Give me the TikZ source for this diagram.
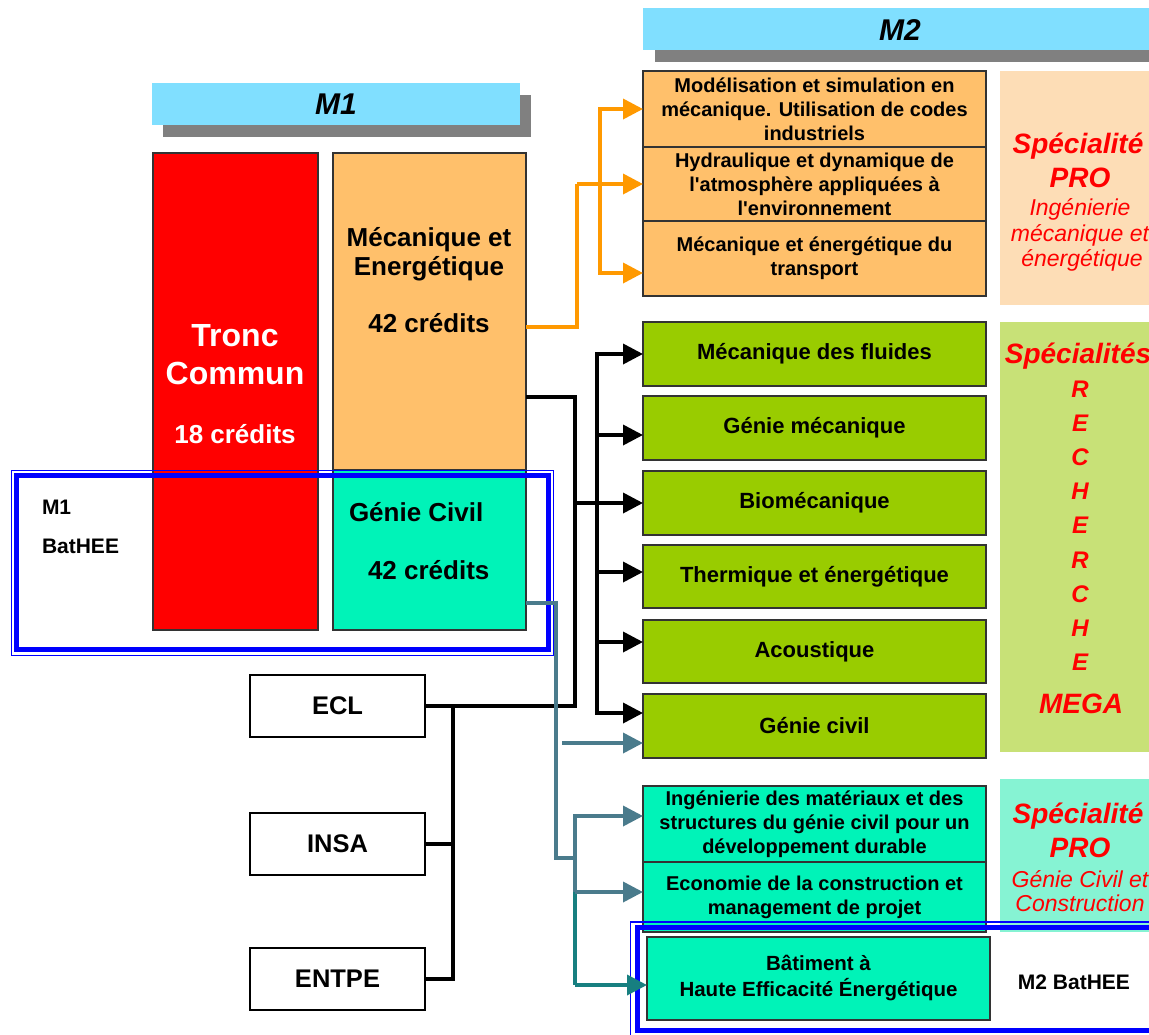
\documentclass[tikz,border=0pt]{standalone}
\usepackage{fontspec}
\setmainfont{Liberation Sans}[Ligatures=TeXOff]
\usetikzlibrary{arrows.meta,calc}
\newcommand\myfs[2]{\fontsize{#1}{#2}\selectfont}
\definecolor{hdr}{HTML}{80DFFF}
\definecolor{shd}{HTML}{808080}
\definecolor{redb}{HTML}{FF0000}
\definecolor{orab}{HTML}{FFC06B}
\definecolor{aqub}{HTML}{00F3B8}
\definecolor{grnb}{HTML}{99CC00}
\definecolor{oral}{HTML}{FF9900}
\definecolor{tealA}{HTML}{4A7B8C}
\definecolor{tealB}{HTML}{177F80}
\definecolor{bluer}{HTML}{0000FF}
\definecolor{spo}{HTML}{FDDDB6}
\definecolor{spg}{HTML}{C8E177}
\definecolor{spa}{HTML}{86F3D3}
\begin{document}
\begin{tikzpicture}[x=1pt,y=-1pt,
  bx/.style={draw=black!80,line width=1.2pt,anchor=north west,inner sep=0pt,outer sep=0pt,align=center},
  mbox/.style={bx,minimum width=343pt,font=\bfseries\myfs{20}{24}},
  gbox/.style={bx,fill=grnb,minimum width=343pt,font=\bfseries\myfs{22}{26}},
  sbox/.style={bx,draw=black,line width=1.8pt,fill=white,minimum width=175pt,minimum height=62pt,font=\bfseries\myfs{25.5}{30}},
  spbox/.style={anchor=north west,inner sep=0pt,outer sep=0pt,minimum width=170pt},
  tx/.style={anchor=base,inner sep=0pt,outer sep=0pt},
  rt/.style={tx,text=red,font=\bfseries\itshape\myfs{28}{32}},
  rs/.style={tx,text=red,font=\itshape\myfs{23}{26}},
  bl/.style={draw=black,line width=3.6pt},
  ol/.style={draw=oral,line width=3.6pt},
  tl/.style={draw=tealA,line width=3.6pt},
  tlb/.style={draw=tealB,line width=3.6pt},
  tip/.style={-{Triangle[length=20pt,width=20pt]}}
]
\useasboundingbox (0,0) rectangle (1149,1034);
\clip (0,0) rectangle (1149,1034);
\fill[white] (0,0) rectangle (1149,1034);

% headers
\fill[shd] (163,95) rectangle (531,137);
\node[bx,draw=none,fill=hdr,minimum width=368pt,minimum height=42pt,font=\bfseries\itshape\myfs{30}{36}] (h1) at (152,83) {M1};
\fill[shd] (655,20) rectangle (1170,62);
\node[bx,draw=none,fill=hdr,minimum width=520pt,minimum height=42pt] (h2) at (643,8) {};
\node[tx,font=\bfseries\itshape\myfs{30}{36}] (h2t) at (900,40) {M2};

% M1 boxes
\node[bx,fill=redb,minimum width=165pt,minimum height=477pt] (tc) at (153,153) {};
\node[bx,fill=orab,minimum width=193pt,minimum height=317pt] (meca) at (333,153) {};
\node[bx,fill=aqub,minimum width=193pt,minimum height=160pt] (gciv) at (333,470) {};
\node[tx,text=white,font=\bfseries\myfs{32}{38}] (tc1) at (235,346) {Tronc};
\node[tx,text=white,font=\bfseries\myfs{32}{38}] (tc2) at (235,384) {Commun};
\node[tx,text=white,font=\bfseries\myfs{26}{30}] (tc3) at (235,443) {18 crédits};
\node[tx,font=\bfseries\myfs{26}{30}] (me1) at (429,246) {Mécanique et};
\node[tx,font=\bfseries\myfs{26}{30}] (me2) at (429,275) {Energétique};
\node[tx,font=\bfseries\myfs{26}{30}] (me3) at (429,332) {42 crédits};
\node[tx,anchor=base west,font=\bfseries\myfs{26}{30}] (gc1) at (349,521) {Génie Civil};
\node[tx,anchor=base west,font=\bfseries\myfs{26}{30}] (gc2) at (368,579) {42 crédits};
\node[tx,anchor=base west,font=\bfseries\myfs{21}{26}] (mb1) at (42,514) {M1};
\node[tx,anchor=base west,font=\bfseries\myfs{21}{26}] (mb2) at (42,553) {BatHEE};

% schools
\node[sbox] (ECL) at (250,675) {ECL};
\node[sbox] (INSA) at (250,813) {INSA};
\node[sbox] (ENTPE) at (250,948) {ENTPE};

% specialty panels
\node[spbox,fill=spo,minimum height=234pt] (sp1) at (1000,71) {};
\node[spbox,fill=spg,minimum height=430pt] (sp2) at (1000,322) {};
\node[spbox,fill=spa,minimum height=153pt] (sp3) at (1000,779) {};
\node[rt] (s1a) at (1078,153) {Spécialité};
\node[rt] (s1b) at (1080,187) {PRO};
\node[rs] (s1c) at (1080,215) {Ingénierie};
\node[rs] (s1d) at (1080,241) {mécanique et};
\node[rs] (s1e) at (1082,266) {énergétique};
\node[rt] (s2a) at (1078,363) {Spécialités};
\foreach \L [count=\i] in {R,E,C,H,E,R,C,H,E}
  \node[tx,text=red,font=\bfseries\itshape\myfs{24}{28}] (rl\i) at (1080,{397.5+(\i-1)*34.1}) {\L};
\node[rt] (s2m) at (1081,713) {MEGA};
\node[rt] (s3a) at (1078,823) {Spécialité};
\node[rt] (s3b) at (1080,857) {PRO};
\node[rs] (s3c) at (1080,887) {Génie Civil et};
\node[rs] (s3d) at (1080,911) {Construction};

% M2 orange
\node[mbox,fill=orab,minimum height=76pt] (mod) at (643,71) {Modélisation et simulation en\\mécanique. Utilisation de codes\\industriels};
\node[mbox,fill=orab,minimum height=74pt] (hyd) at (643,147) {Hydraulique et dynamique de\\l'atmosphère appliquées à\\l'environnement};
\node[mbox,fill=orab,minimum height=75pt] (tra) at (643,221) {Mécanique et énergétique du\\transport};
% M2 green
\node[gbox,minimum height=64pt] (fl) at (643,322) {Mécanique des fluides};
\node[gbox,minimum height=64pt] (gm) at (643,396) {Génie mécanique};
\node[gbox,minimum height=64pt] (bio) at (643,471) {Biomécanique};
\node[gbox,minimum height=63pt] (th) at (643,545) {Thermique et énergétique};
\node[gbox,minimum height=63pt] (ac) at (643,620) {Acoustique};
\node[gbox,minimum height=64pt] (gcv) at (643,694) {Génie civil};
% M2 aqua
\node[mbox,fill=aqub,minimum height=76pt] (ing) at (643,786) {Ingénierie des matériaux et des\\structures du génie civil pour un\\développement durable};
\node[mbox,fill=aqub,minimum height=70pt] (eco) at (643,862) {Economie de la construction et\\management de projet};
\node[mbox,fill=aqub,minimum height=83pt,font=\bfseries\myfs{20.5}{26}] (bat) at (647,937) {Bâtiment à\\Haute Efficacité Énergétique};
\node[tx,font=\bfseries\myfs{21}{26}] (m2b) at (1074,989) {M2 BatHEE};

% blue frames
\draw[bluer,line width=1.2pt] (11.5,470.5) rectangle (553.5,655.5);
\draw[bluer,line width=5pt] (16.5,475.5) rectangle (548.5,649.5);
\draw[bluer,line width=1.2pt] (630.5,922) rectangle (1170,1036);
\draw[bluer,line width=5pt] (637.5,927) rectangle (1165,1030);

% orange connectors
\coordinate (mecO) at (526,327);
\coordinate (oJ) at (577,184);
\coordinate (oT) at (600,109);
\coordinate (oB) at (600,273);
\draw[ol] (mecO) -| (oJ);
\draw[ol,tip] (oJ) -- (hyd.west);
\draw[ol,line cap=rect] (oT) -- (oB);
\draw[ol,tip] (oT) -- (mod.west |- oT);
\draw[ol,tip] (oB) -- (tra.west |- oB);

% black connectors
\coordinate (mecB) at (526,397);
\coordinate (kB) at (575,706);
\coordinate (kM) at (575,503);
\draw[bl] (mecB) -| (kB) -- (ECL.east);
\draw[bl,tip] (kM) -- (bio.west);
\coordinate (bT) at (597,354);
\coordinate (b2) at (597,435);
\coordinate (b4) at (597,572);
\coordinate (b5) at (597,642);
\coordinate (bB) at (597,713);
\draw[bl,line cap=rect] (bT) -- (bB);
\draw[bl,tip] (bT) -- (fl.west);
\draw[bl,tip] (b2) -- (gm.west |- b2);
\draw[bl,tip] (b4) -- (th.west |- b4);
\draw[bl,tip] (b5) -- (ac.west |- b5);
\draw[bl,tip] (bB) -- (gcv.west |- bB);
\coordinate (vJ) at (453,706);
\draw[bl] (vJ) |- (ENTPE.east);
\draw[bl] (INSA.east) -- (INSA.east -| vJ);

% teal connectors
\coordinate (gcO) at (526,603);
\coordinate (tK) at (556,858);
\coordinate (tJ) at (575,858);
\draw[tl] (gcO) -| (tK) -- (tJ);
\coordinate (tT) at (575,816);
\coordinate (tM) at (575,892);
\coordinate (tE) at (575,985);
\draw[tl,line cap=rect] (tT) -- (tM);
\draw[tlb] (tM) -- (tE);
\draw[tl,tip] (tT) -- (ing.west |- tT);
\draw[tl,tip] (tM) -- (eco.west |- tM);
\draw[tlb,tip] (tE) -- (bat.west |- tE);
\coordinate (tG) at (562,743);
\draw[tl,tip] (tG) -- (gcv.west |- tG);
\end{tikzpicture}
\end{document}
